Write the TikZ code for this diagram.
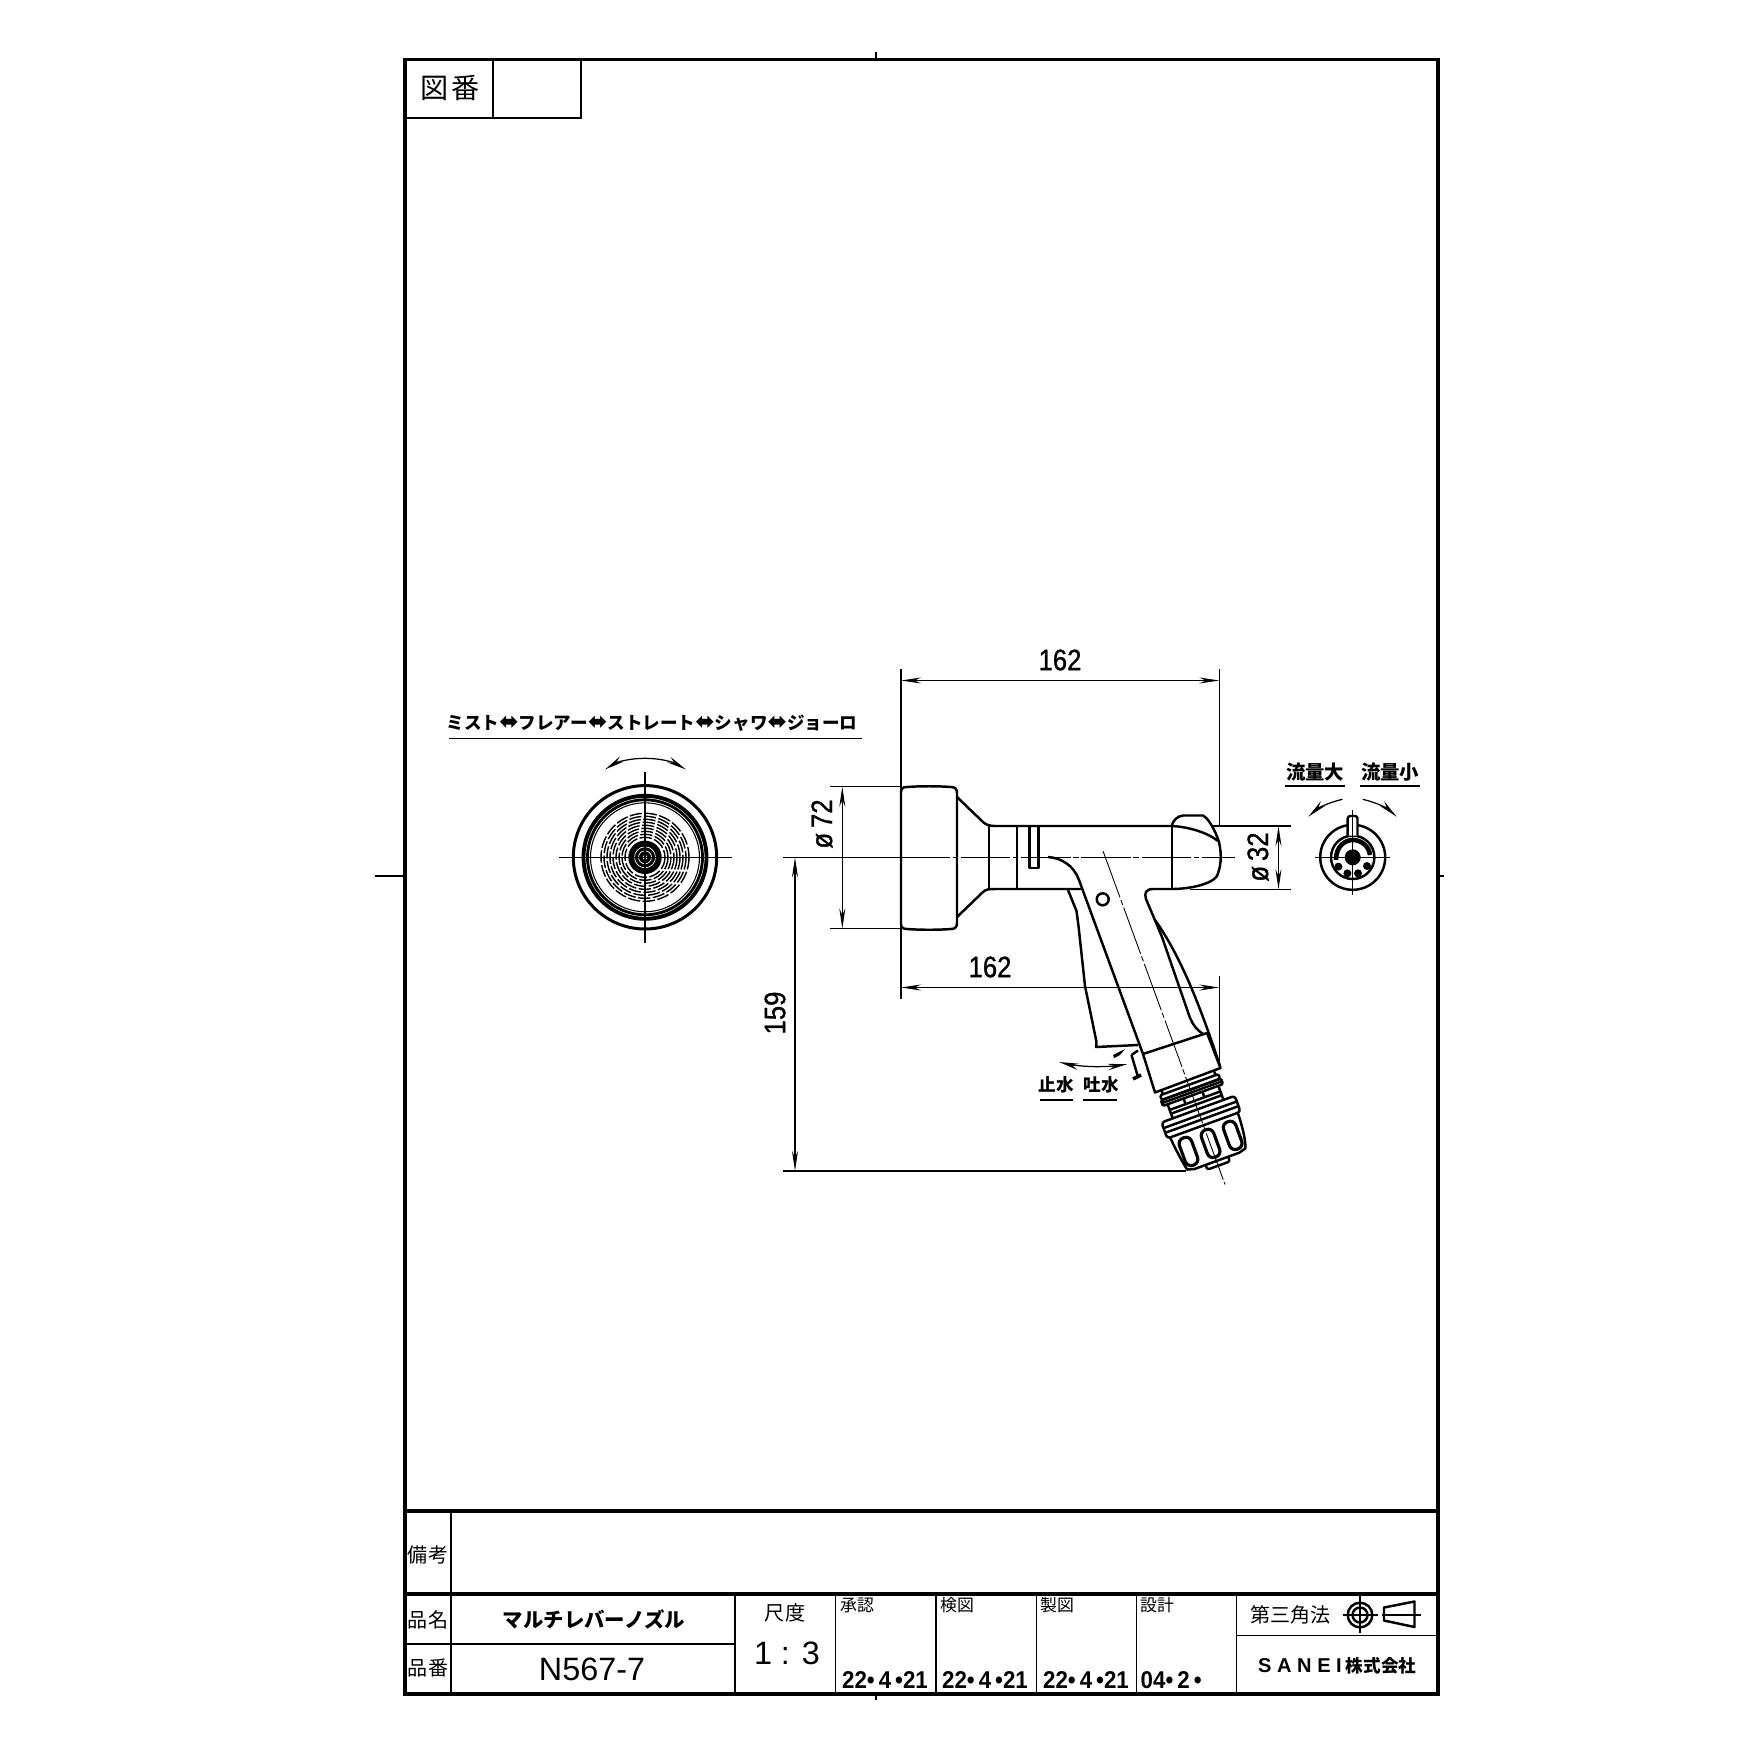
\documentclass[tikz,border=0pt]{standalone}
\usepackage{fontspec}
\setmainfont{Liberation Sans}
\newfontfamily\dimfont[FakeStretch=0.87,FakeBold=1]{Liberation Sans}
\newfontfamily\datefont[FakeStretch=0.92]{Liberation Sans Bold}
\newfontfamily\cjk{Noto Sans CJK JP}
\newfontfamily\arrowfont{DejaVu Sans}
\usetikzlibrary{arrows.meta}
\newcommand{\fsz}[1]{\fontsize{#1}{#1}\selectfont}
\newcommand{\swap}{{\arrowfont\bfseries\fsz{6.6}⬌}}
\begin{document}
\begin{tikzpicture}
        [
            x=0.01cm, y=-0.01cm,
            frameline/.style = {line width=1pt},
            cellline/.style = {line width=0.3pt},
            part/.style = {line width=0.7pt, line join=round},
            fineline/.style = {line width=0.3pt},
            chain/.style = {line width=0.25pt, dash pattern=on 14pt off 0.8pt on 1.5pt off 0.8pt},
            dimarrow/.style = {line width=0.3pt, {Stealth[length=5.7pt,width=1.7pt]}-{Stealth[length=5.7pt,width=1.7pt]}},
            turnarrow/.style = {line width=0.35pt, -{Stealth[length=5.6pt,width=1.8pt]}},
            dimtext/.style = {inner sep=0pt, font=\dimfont\fsz{8.4}},
            datetext/.style = {inner sep=0pt, font=\datefont\fsz{6.9}},
            kanjilabel/.style = {inner sep=0pt, font=\cjk\fsz{5.7}},
            boldlabel/.style = {inner sep=0pt, font=\cjk\bfseries\fsz{5}},
        ]
        \useasboundingbox (0,0) rectangle (1754,1754);
        % sheet
        \draw[frameline] (405,59.5) rectangle (1438,1694);
        \draw[frameline] (405,1511) -- (1438,1511);
        \draw[frameline] (405,1594) -- (1438,1594);
        \draw[cellline] (405,118) -- (581,118) -- (581,59.5);
        \draw[cellline] (493,59.5) -- (493,118);
        \draw[cellline] (451,1511) -- (451,1694);
        \draw[cellline] (405,1644) -- (735,1644);
        \draw[cellline] (735,1594) -- (735,1694);
        \draw[cellline] (835.5,1594) -- (835.5,1694);
        \draw[cellline] (936,1594) -- (936,1694);
        \draw[cellline] (1036.5,1594) -- (1036.5,1694);
        \draw[cellline] (1136.5,1594) -- (1136.5,1694);
        \draw[cellline] (1236.5,1594) -- (1236.5,1694);
        \draw[cellline] (1236.5,1635.5) -- (1438,1635.5);
        \draw[cellline] (876,52) -- (876,59.5);
        \draw[cellline] (876,1694) -- (876,1700);
        \draw[cellline] (375,876) -- (405,876);
        \draw[cellline] (1438,876) -- (1444,876);
        % sheet texts
        \node[kanjilabel, font=\cjk\fsz{8}] (zuban) at (450,88) {図\hspace{1pt}番};
        \node[kanjilabel] (bikou) at (428,1555) {備考};
        \node[kanjilabel] (hinmei) at (428,1620) {品名};
        \node[kanjilabel] (hinban) at (428,1668) {品番};
        \node[boldlabel, font=\cjk\bfseries\fsz{5.8}] (partname) at (594,1619) {マルチレバーノズル};
        \node[inner sep=0pt, font=\fsz{9.2}] (partno) at (592,1669) {N567-7};
        \node[kanjilabel] (shakudo) at (785,1613) {尺度};
        \node[inner sep=0pt, font=\fsz{9.2}] (scale) at (787,1653) {1 : 3};
        \node[kanjilabel, font=\cjk\fsz{4.8}] (shounin) at (857,1605) {承認};
        \node[kanjilabel, font=\cjk\fsz{4.8}] (kenzu) at (957,1605) {検図};
        \node[kanjilabel, font=\cjk\fsz{4.8}] (seizu) at (1057,1605) {製図};
        \node[kanjilabel, font=\cjk\fsz{4.8}] (sekkei) at (1157,1605) {設計};
        \node[datetext] (date1) at (885,1680) {22•\,4\,•21};
        \node[datetext] (date2) at (985,1680) {22•\,4\,•21};
        \node[datetext] (date3) at (1086,1680) {22•\,4\,•21};
        \node[datetext, anchor=west] (date4) at (1140,1680) {04•\,2\,•};
        \node[kanjilabel] (sankaku) at (1290.5,1615) {第三角法};
        \node[inner sep=0pt, font=\bfseries\fsz{5.7}] (sanei) at (1300,1666) {S A N E I};
        \node[boldlabel] (kaisha) at (1381,1666) {株式会社};
        % third angle mark
        \draw[part] (1360,1615) circle (12.3);
        \draw[part] (1360,1615) circle (7.5);
        \draw[fineline] (1342.5,1615) -- (1378,1615);
        \draw[fineline] (1360,1596) -- (1360,1633);
        \draw[part] (1384,1607.5) -- (1414.5,1601.5) -- (1414.5,1627) -- (1384,1620.5) -- cycle;
        \draw[fineline] (1381.5,1615) -- (1420.5,1615);
        % front view
        \draw[line width=0.85pt] (645,857.3) circle (71.7);
        \draw[line width=1.1pt] (645,857.3) circle (61.5);
        \draw[line width=0.8pt] (645,857.3) circle (57.5);
        \draw[line width=0.3pt] (645,857.3) circle (54.5);
        \foreach \ringr in {44,41,38,35,32,29,26,23,20}
            \draw[line width=0.4pt, dash pattern=on 3.5pt off 0.7pt] (645,857.3) circle (\ringr);
        \fill (645,857.3) circle (16.7);
        \draw[white, line width=0.2pt] (645,857.3) circle (10.5);
        \draw[white, line width=0.2pt] (645,857.3) circle (6.5);
        \draw[white, line width=0.2pt] (645,857.3) circle (2);
        \draw[fineline] (559,857.3) -- (732,857.3);
        \draw[fineline] (645,771.5) -- (645,943);
        \draw[turnarrow] (645,758.3) .. controls (630,758.3) and (617,762) .. (605,769.5);
        \draw[turnarrow] (645,758.3) .. controls (660,758.3) and (673,762) .. (686,769.5);
        \node[boldlabel] (modes) at (652,723.5) {ミスト\swap フレアー\swap ストレート\swap シャワ\swap ジョーロ};
        \draw[fineline] (449,738.3) -- (862,738.3);
        % nozzle side view
        \draw[part] (901,792) .. controls (901,788.5) and (903,787) .. (907,787) .. controls (920,786) and (938,786) .. (951,787) .. controls (955,787) and (957,789) .. (957,793) -- (957,923) .. controls (957,927) and (955,929) .. (951,929) .. controls (938,930) and (920,930) .. (907,929) .. controls (903,929) and (901,927.5) .. (901,924) -- cycle;
        \draw[part] (957,797) -- (983,822) .. controls (986,825) and (990,826) .. (995,826) -- (1172,826);
        \draw[part] (957,917) -- (983,892) .. controls (986,889) and (990,889) .. (995,889) -- (1081,889);
        \draw[part] (989,826) -- (989,889);
        \draw[part] (1017,826) -- (1017,889);
        \draw[part] (1029.5,826) -- (1029.5,868) -- (1038.5,868) -- (1038.5,826);
        \draw[part] (1172,826) -- (1172,889);
        \draw[part] (1172,825) .. controls (1173,821) and (1177,816) .. (1183,815.5) -- (1203,815.5) .. controls (1209,819) and (1215,830) .. (1219,842) .. controls (1222,856) and (1221,866) .. (1217,876) .. controls (1212,884) and (1190,889) .. (1172,889);
        \draw[part] (1172,826) .. controls (1190,827) and (1208,833) .. (1218,841);
        \draw[part] (1172,889) -- (1153,889) .. controls (1146,889) and (1144,893) .. (1146,899) -- (1162,937) -- (1190,1018) .. controls (1193,1025) and (1197,1030) .. (1203,1034);
        \draw[part] (1155,920) .. controls (1180,955) and (1200,1005) .. (1220,1066);
        \draw[part] (1048,857) .. controls (1062,858) and (1074,866) .. (1079,880) -- (1143,1054);
        \draw[part] (1068,890) -- (1076.5,911) -- (1078.5,926) -- (1085,986) -- (1096.5,1042) -- (1096,1047) -- (1138,1045);
        \fill (1113,1055) -- (1125,1049) -- (1120,1055) -- (1114,1058) -- cycle;
        \draw[part] (1102.7,899.3) circle (6);
        % collar and tab
        \draw[part] (1143,1054) -- (1207,1033) -- (1220.5,1068) -- (1155,1092.5) -- cycle;
        \draw[part] (1131.5,1055) -- (1138,1050.5);
        \draw[part] (1131.5,1055) -- (1138,1077);
        \draw[line width=1pt] (1133,1079) -- (1141,1075);
        % connector and nut, along the tilted axis
        \begin{scope}[shift={(1187.5,1080)}, rotate=20]
            \draw[part] (-28,1) -- (-28,5);
            \draw[part] (28,1) -- (28,5);
            \draw[part, rounded corners=0.4pt] (-31,5) rectangle (31,10);
            \draw[part, rounded corners=0.4pt] (-32,10) rectangle (32,16);
            \draw[part] (-31,13) -- (31,13);
            \draw[part] (-27,16) -- (-27,31);
            \draw[part] (27,16) -- (27,31);
            \draw[part] (-27,22) -- (27,22);
            \draw[part] (-27,26) -- (27,26);
            \draw[part] (-10,16) -- (-10,22);
            \draw[part] (10,16) -- (10,22);
            \draw[part, rounded corners=0.9pt] (-39,31) rectangle (39,48);
            \draw[part] (-38,37) -- (38,37);
            \draw[part] (-38,42) -- (38,42);
            \draw[part] (-36,48) .. controls (-35,60) and (-33,75) .. (-31,84) -- (-24,86) -- (24,86) -- (31,84) .. controls (34,78) and (36,60) .. (36,48);
            \draw[line width=0.9pt, rounded corners=1.7pt] (-30,53) rectangle (-17,82);
            \draw[line width=0.9pt, rounded corners=1.7pt] (-6.5,53) rectangle (6.5,82);
            \draw[line width=0.9pt, rounded corners=1.7pt] (17,53) rectangle (30,82);
            \draw[part, rounded corners=0.6pt] (-12,86) -- (-12,91) -- (12,91) -- (12,86);
        \end{scope}
        % axes
        \draw[fineline] (783,857.3) -- (901,857.3);
        \draw[chain] (901,857.3) -- (1235,857.3);
        \draw[chain] (1103,851) -- (1225,1184.5);
        % dimensions
        \draw[fineline] (901,668.5) -- (901,999);
        \draw[fineline] (1219.3,668.5) -- (1219.3,825);
        \draw[fineline] (1219.3,976) -- (1219.3,1065);
        \draw[dimarrow] (901,680.5) -- (1219.3,680.5);
        \node[dimtext] (toplen) at (1060,660) {162};
        \draw[dimarrow] (901,987.5) -- (1219.3,987.5);
        \node[dimtext] (lowlen) at (990,967) {162};
        \draw[fineline] (830,786.7) -- (901,786.7);
        \draw[fineline] (830,928.5) -- (901,928.5);
        \draw[dimarrow] (842.3,786.7) -- (842.3,928.5);
        \node[dimtext, rotate=90] (headdia) at (822,824) {ø\,72};
        \draw[fineline] (1213,826) -- (1291,826);
        \draw[fineline] (1190,889.3) -- (1291,889.3);
        \draw[dimarrow] (1278.5,826) -- (1278.5,889.3);
        \node[dimtext, rotate=90] (bodydia) at (1258,857) {ø\,32};
        \draw[line width=0.5pt] (783,1171) -- (1186,1171);
        \draw[dimarrow, line width=0.5pt] (795,857.3) -- (795,1171);
        \node[dimtext, rotate=90] (height) at (775,1013) {159};
        % flow and trigger notes
        \draw[turnarrow] (1090,1066.5) .. controls (1079,1066) and (1069,1064.5) .. (1059,1062);
        \draw[turnarrow] (1090,1066.5) .. controls (1103,1067) and (1115,1066) .. (1127.5,1064);
        \node[boldlabel] (stop) at (1056,1085) {止水};
        \node[boldlabel] (spout) at (1101,1085) {吐水};
        \draw[fineline] (1040,1100) -- (1073,1100);
        \draw[fineline] (1083,1100) -- (1117,1100);
        % rear view
        \draw[part] (1352.7,857.3) circle (32.5);
        \draw[part] (1352.7,857.3) circle (21.7);
        \draw[line width=1.3pt] (1336,860) .. controls (1336,846) and (1345,840) .. (1353,840) .. controls (1361,840) and (1369,846) .. (1370,855);
        \fill (1352.7,857.3) circle (8);
        \fill (1338.4,866.6) circle (4);
        \fill (1347.4,873.3) circle (4);
        \fill (1358,873.3) circle (4);
        \fill (1367,866) circle (4);
        \draw[part, fill=white, rounded corners=0.7pt] (1347.7,835.5) -- (1347.7,816) -- (1357.5,816) -- (1357.5,835.5);
        \draw[fineline] (1315,857.3) -- (1390,857.3);
        \draw[fineline] (1352.7,810) -- (1352.7,895);
        \draw[turnarrow] (1342.5,799.3) .. controls (1330,802) and (1318,808) .. (1308.3,816.7);
        \draw[turnarrow] (1362.7,799.3) .. controls (1375,802) and (1387,808) .. (1396.7,816.7);
        \node[boldlabel, font=\cjk\bfseries\fsz{5.5}] (bigflow) at (1315,772) {流量大};
        \node[boldlabel, font=\cjk\bfseries\fsz{5.5}] (smallflow) at (1390,772) {流量小};
        \draw[fineline] (1285,786) -- (1345,786);
        \draw[fineline] (1360,786) -- (1420,786);
    \end{tikzpicture}
\end{document}
